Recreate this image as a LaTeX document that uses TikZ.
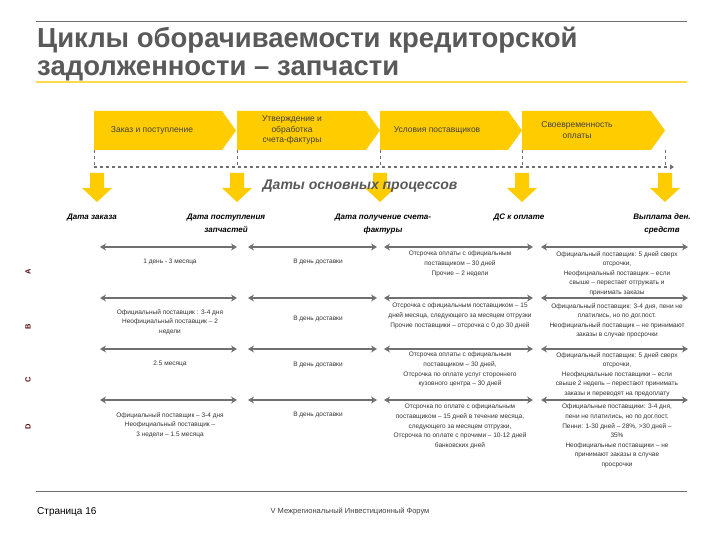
\documentclass[tikz,border=0pt]{standalone}
\usepackage{fontspec}
\setmainfont{Liberation Sans}
\usetikzlibrary{arrows.meta}
\definecolor{ttl}{HTML}{595959}
\definecolor{ylw}{HTML}{FFCC00}
\definecolor{gr}{HTML}{707070}
\definecolor{dk}{HTML}{5A1010}
\begin{document}
\begin{tikzpicture}[x=1pt,y=-1pt,
 chev/.style={fill=ylw,draw=none},
 txt/.style={font=\fontsize{6.5}{9.6}\selectfont,align=center,text=black!80,inner sep=0pt},
 ctxt/.style={font=\fontsize{8.5}{10.5}\selectfont,align=center,text=black!75,inner sep=0pt},
 dlab/.style={font=\fontsize{8}{12.5}\selectfont\itshape\bfseries,align=center,inner sep=0pt},
 darr/.style={gr,line width=2.6pt,{Stealth[length=6pt,width=7pt]}-{Stealth[length=6pt,width=7pt]}},
 yarr/.style={fill=ylw,draw=none},
 rowl/.style={font=\fontsize{7.5}{8}\selectfont\bfseries,text=dk,rotate=90,inner sep=0pt}]
\useasboundingbox (0,0) rectangle (720,540);
\fill[white] (0,0) rectangle (720,540);
\draw[gr,line width=0.8pt] (36,21) -- (687,21);
\node[anchor=west,font=\fontsize{27.5}{28}\selectfont\bfseries,text=ttl,align=left,inner sep=0pt] (title) at (37,54) {Циклы оборачиваемости кредиторской\\задолженности – запчасти};
\draw[ylw!70!white,line width=1.6pt] (36,82) -- (687,82);
\foreach \a/\b/\n in {94/236/c1,237/380/c2,380/522/c3,522/665/c4}{
 \fill[chev] (\a,111) -- (\b-14,111) -- (\b,130.5) -- (\b-14,150) -- (\a,150) -- cycle;
 \coordinate (\n) at (\a,150);
}
\node[ctxt] (t1) at (152,130) {Заказ и поступление};
\node[ctxt] (t2) at (292,130) {Утверждение и\\обработка\\счета-фактуры};
\node[ctxt] (t3) at (437,130) {Условия поставщиков};
\node[ctxt] (t4) at (577,130) {Своевременность\\оплаты};
\foreach \n in {c1,c2,c3,c4}{\draw[gr,dashed,line width=0.7pt] (\n) -- (\n |- 0,167);}
\coordinate (c5) at (665,150);
\draw[gr,dashed,line width=0.7pt] (c5) -- (665,167);
\coordinate (ts) at (94,167); \coordinate (te) at (674,167);
\draw[gr,dashed,line width=1.4pt,-{Triangle[length=4pt,width=5pt]}] (ts) -- (te);
\foreach \x in {97,237,380,522,665}{
 \fill[yarr] (\x-7,173) -- (\x+7,173) -- (\x+7,188) -- (\x+15,188) -- (\x,202) -- (\x-15,188) -- (\x-7,188) -- cycle;
}
\node[font=\fontsize{14}{16}\selectfont\itshape\bfseries,text=ttl] (dop) at (360,186) {Даты основных процессов};
\node[dlab,anchor=north] (d1) at (92,214) {Дата заказа};
\node[dlab,anchor=north] (d2) at (226,214) {Дата поступления\\ запчастей};
\node[dlab,anchor=north] (d3) at (383,214) {Дата получение счета-\\фактуры};
\node[dlab,anchor=north] (d4) at (519,214) {ДС к оплате};
\node[dlab,anchor=north] (d5) at (662,214) {Выплата ден.\\ средств};
\node[rowl] (ra) at (28,272) {A};
\node[rowl] (rb) at (28,327) {B};
\node[rowl] (rc) at (28,380) {C};
\node[rowl] (rd) at (28,427) {D};
\foreach \y/\r in {247/a,298/b,349/c,400/d}{
 \coordinate (a1\r) at (100,\y); \coordinate (b1\r) at (237,\y);
 \coordinate (a2\r) at (248,\y); \coordinate (b2\r) at (377,\y);
 \coordinate (a3\r) at (384,\y); \coordinate (b3\r) at (533,\y);
 \coordinate (a4\r) at (541,\y); \coordinate (b4\r) at (688,\y);
 \draw[darr] (a1\r) -- (b1\r);
 \draw[darr] (a2\r) -- (b2\r);
 \draw[darr] (a3\r) -- (b3\r);
 \draw[darr] (a4\r) -- (b4\r);
}
\node[txt,anchor=north] (a1) at (170,259) {1 день - 3 месяца};
\node[txt,anchor=north] (b1) at (170,309) {Официальный поставщик : 3-4 дня\\Неофициальный поставщик – 2\\недели};
\node[txt,anchor=north] (c1t) at (170,361) {2.5 месяца};
\node[txt,anchor=north] (d1t) at (170,412) {Официальный поставщик – 3-4 дня\\Неофициальный поставщик –\\3 недели – 1.5 месяца};
\node[txt,anchor=north] (a2) at (318,259) {В день доставки};
\node[txt,anchor=north] (b2) at (318,316) {В день доставки};
\node[txt,anchor=north] (c2t) at (318,362) {В день доставки};
\node[txt,anchor=north] (d2t) at (318,412) {В день доставки};
\node[txt,anchor=north] (a3) at (460,251) {Отсрочка оплаты с официальным\\поставщиком – 30 дней\\Прочие – 2 недели};
\node[txt,anchor=north] (b3) at (460,303) {Отсрочка с официальным поставщиком – 15\\дней месяца, следующего за месяцем отгрузки\\Прочие поставщики – отсрочка с 0 до 30 дней};
\node[txt,anchor=north] (c3t) at (460,352) {Отсрочка оплаты с официальным\\поставщиком – 30 дней,\\Отсрочка по оплате услуг стороннего\\кузовного центра – 30 дней};
\node[txt,anchor=north] (d3t) at (460,404) {Отсрочка по оплате с официальным\\поставщиком – 15 дней в течение месяца,\\следующего за месяцем отгрузки,\\Отсрочка по оплате с прочими – 10-12 дней\\банковских дней};
\node[txt,anchor=north] (a4) at (617,251) {Официальный поставщик: 5 дней сверх\\отсрочки,\\Неофициальный поставщик – если\\свыше – перестает отгружать и\\принимать заказы};
\node[txt,anchor=north] (b4) at (617,303) {Официальный поставщик: 3-4 дня, пени не\\платились, но по дог.пост.\\Неофициальный поставщик – не принимают\\заказы в случае просрочки};
\node[txt,anchor=north] (c4t) at (617,352) {Официальный поставщик: 5 дней сверх\\отсрочки,\\Неофициальные поставщики – если\\свыше 2 недель – перестают принимать\\заказы и переводят на предоплату};
\node[txt,anchor=north] (d4t) at (617,404) {Официальные поставщики: 3-4 дня,\\пени не платились, но по дог.пост.\\Пенни: 1-30 дней – 28\%, >30 дней –\\35\%\\Неофициальные поставщики – не\\принимают заказы в случае\\просрочки};
\draw[gr,line width=0.8pt] (36,491) -- (687,491);
\node[anchor=west,font=\fontsize{10}{12}\selectfont,inner sep=0pt] (pg) at (37,512) {Страница 16};
\node[font=\fontsize{7.5}{9}\selectfont,text=black!75,inner sep=0pt] (forum) at (350,511) {V Межрегиональный Инвестиционный Форум};
\end{tikzpicture}
\end{document}
